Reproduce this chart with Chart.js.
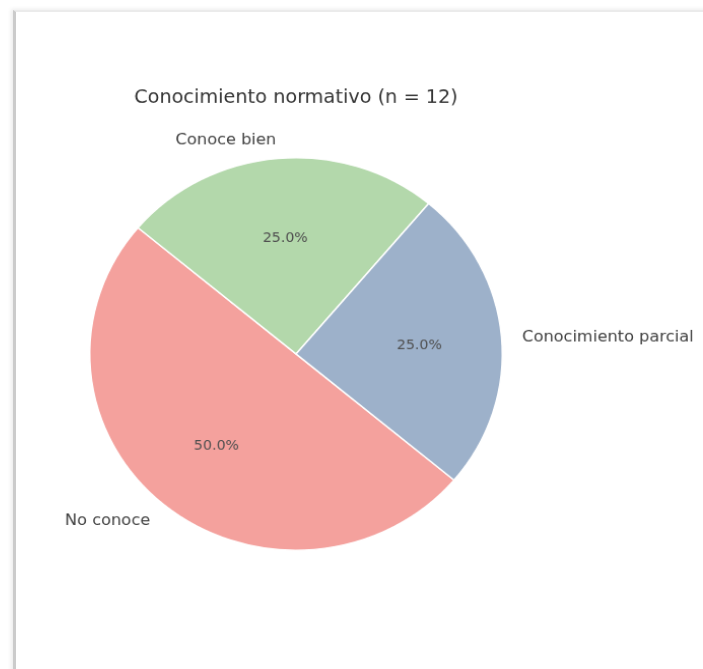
<!DOCTYPE html>
<html>
<head>
<meta charset="utf-8">
<script src="https://cdn.jsdelivr.net/npm/chart.js@4.4.1/dist/chart.umd.min.js"></script>
<style>
  body { margin: 0; background: #fff; overflow: hidden; }
  #frame {
    position: absolute; left: 13px; top: 10px; width: 720px; height: 700px;
    border-left: 3px solid #cbcbcb; border-top: 2px solid #ebebeb;
    box-shadow: -2px -1px 4px rgba(0,0,0,0.08);
  }
  /* the reference pie is a little wider than tall */
  #wrap {
    position: absolute; left: 0; top: 0; width: 703px; height: 669px;
    transform-origin: 296px 354px; transform: scale(1.015, 0.966);
  }
</style>
</head>
<body>
<div id="frame"></div>
<div id="wrap"><canvas id="chartPie"></canvas></div>
<script>
const categories = ['No conoce', 'Conoce bien', 'Conocimiento parcial']
const counts = [6, 3, 3]
const percentLabels = ['50.0%', '25.0%', '25.0%']
const sliceColors = ['#f4a19d', '#b3d8ab', '#9db1ca']
const textColor = '#404040'
const fontName = "'DejaVu Sans', sans-serif"

// draws outer labels and percents like matplotlib (labeldistance 1.1, pctdistance 0.6)
const pieText = {
    id: 'pieText',
    afterDatasetsDraw(chart) {
        const c = chart.ctx
        const arcs = chart.getDatasetMeta(0).data
        c.save()
        arcs.forEach((arc, i) => {
            const mid = (arc.startAngle + arc.endAngle) / 2
            const r = arc.outerRadius
            const cos = Math.cos(mid), sin = Math.sin(mid)
            c.textBaseline = 'middle'
            c.font = '16px ' + fontName
            c.fillStyle = textColor
            c.textAlign = cos >= 0 ? 'left' : 'right'
            c.fillText(categories[i], arc.x + cos * r * 1.1, arc.y + sin * r * 1.1 + 2)
            c.font = '14px ' + fontName
            c.fillStyle = '#505050'
            c.textAlign = 'center'
            c.fillText(percentLabels[i], arc.x + cos * r * 0.6, arc.y + sin * r * 0.6 + 2)
        })
        c.restore()
    }
}

new Chart(document.getElementById('chartPie'), {
    type: 'pie',
    data: {
        labels: categories,
        datasets: [{
            data: counts,
            backgroundColor: sliceColors,
            borderColor: '#ffffff',
            borderWidth: 1.5
        }]
    },
    options: {
        responsive: true,
        maintainAspectRatio: false,
        animation: false,
        rotation: 130,
        layout: { padding: { left: 92, right: 203, top: 0, bottom: 111 } },
        plugins: {
            legend: { display: false },
            tooltip: { enabled: false },
            title: {
                display: true,
                text: 'Conocimiento normativo (n = 12)',
                color: '#333333',
                font: { family: fontName, size: 19, weight: 'normal' },
                padding: { top: 78, bottom: 49 }
            }
        }
    },
    plugins: [pieText]
})
</script>
</body>
</html>
